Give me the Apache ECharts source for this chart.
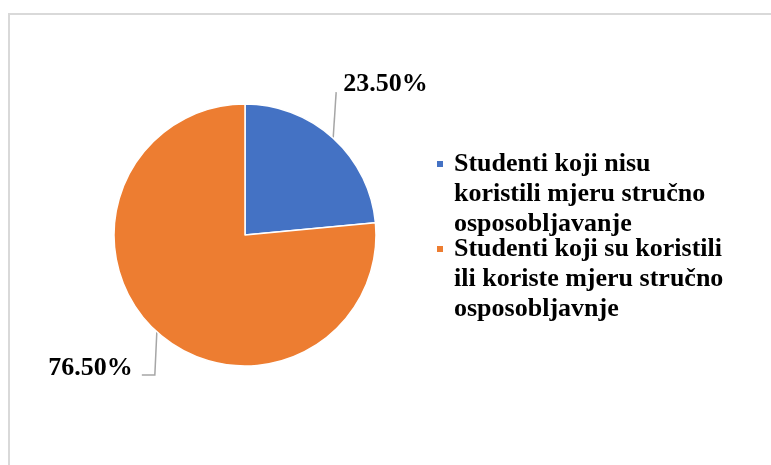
<!DOCTYPE html>
<html>
<head>
    <meta charset="utf-8">
    <title>ECharts</title>
    <script src="https://cdn.jsdelivr.net/npm/echarts@6/dist/echarts.min.js"></script>
    <style>
        body { margin: 0; background: #fff; }
    </style>
</head>
<body>
    <div id="main" style="width: 771px;height:465px;"></div>
    <script type="text/javascript">
        // podaci
        var kategorije = [
            'Studenti koji nisu\nkoristili mjeru stručno\nosposobljavanje',
            'Studenti koji su koristili\nili koriste mjeru stručno\nosposobljavnje'
        ];
        var postotci = [23.5, 76.5];
        var boje = ['#4472C4', '#ED7D31'];

        var podaci = [];
        for (var i = 0; i < kategorije.length; i++) {
            podaci.push({ name: kategorije[i], value: postotci[i] });
        }

        var myChart = echarts.init(document.getElementById('main'));
        var font = '"Liberation Serif", "Times New Roman", serif';

        var option = {
            animation: false,
            color: boje,
            graphic: [{
                type: 'rect',
                shape: { x: 9, y: 14, width: 800, height: 500 },
                style: { fill: 'none', stroke: '#d9d9d9', lineWidth: 2 },
                silent: true
            }],
            legend: {
                orient: 'vertical',
                left: 435,
                top: 89,
                padding: 0,
                itemGap: -65,
                itemWidth: 8,
                itemHeight: 8,
                icon: 'rect',
                data: kategorije,
                // dva prazna reda ispred da kvadratić stoji uz prvi red teksta
                formatter: function (name) {
                    var redovi = name.split('\n');
                    var out = ['{t| }', '{t| }'];
                    for (var j = 0; j < redovi.length; j++) out.push('{t|' + redovi[j] + '}');
                    return out.join('\n');
                },
                textStyle: {
                    fontFamily: font,
                    fontWeight: 'bold',
                    fontSize: 26,
                    lineHeight: 30,
                    color: '#000',
                    rich: {
                        t: {
                            fontFamily: font,
                            fontWeight: 'bold',
                            fontSize: 26,
                            lineHeight: 30,
                            color: '#000',
                            padding: [0, 0, 0, 5]
                        }
                    }
                }
            },
            series: [{
                type: 'pie',
                center: [245, 235],
                radius: 131,
                startAngle: 90,
                clockwise: true,
                itemStyle: { borderColor: '#fff', borderWidth: 1.5 },
                label: {
                    show: true,
                    formatter: function (p) { return p.value.toFixed(2) + '%'; },
                    fontFamily: font,
                    fontWeight: 'bold',
                    fontSize: 26,
                    color: '#000'
                },
                labelLine: {
                    show: true,
                    lineStyle: { color: '#a6a6a6', width: 1.5 }
                },
                labelLayout: function (p) {
                    var e = p.labelLinePoints[0];
                    if (p.dataIndex === 0) {
                        return {
                            x: e[0] + 10, y: e[1] - 54,
                            align: 'left', verticalAlign: 'middle',
                            labelLinePoints: [e, [e[0] + 3, e[1] - 46], [e[0] + 3, e[1] - 46]]
                        };
                    }
                    return {
                        x: e[0] - 24, y: e[1] + 36,
                        align: 'right', verticalAlign: 'middle',
                        labelLinePoints: [e, [e[0] - 2, e[1] + 43], [e[0] - 15, e[1] + 43]]
                    };
                },
                data: podaci
            }]
        };

        myChart.setOption(option);
    </script>
</body>
</html>
